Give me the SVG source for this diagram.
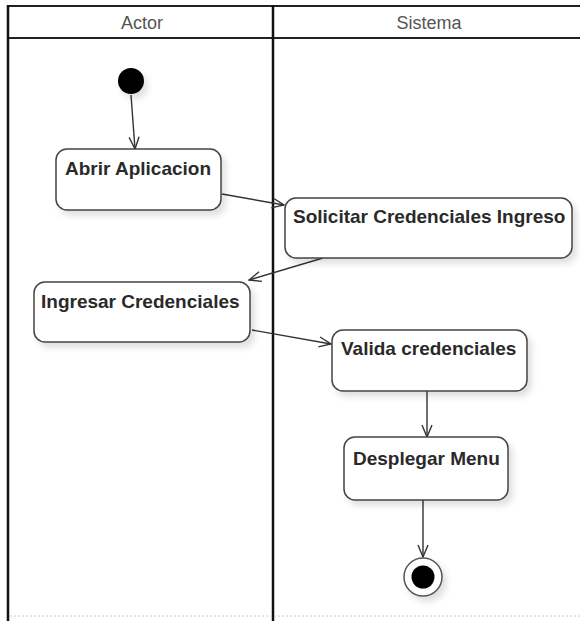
<svg xmlns="http://www.w3.org/2000/svg" width="580" height="621" viewBox="0 0 580 621">
  <defs>
    <style>
      .lane { stroke: #111; stroke-width: 2.5; fill: none; }
      .lane-thin { stroke: #222; stroke-width: 2; fill: none; }
      .lane-title { font-family: "Liberation Sans", Arial, sans-serif; font-size: 18px; fill: #555; text-anchor: middle; }
      .act rect { fill: #fff; stroke: #444; stroke-width: 1.5; filter: url(#shadow); }
      .act text { font-family: "Liberation Sans", Arial, sans-serif; font-size: 19px; font-weight: bold; fill: #2a2a2a; }
      .flow { stroke: #333; stroke-width: 1.4; fill: none; marker-end: url(#arrow); }
    </style>
    <filter id="shadow" x="-20%" y="-20%" width="150%" height="160%">
      <feDropShadow dx="4" dy="5" stdDeviation="3" flood-color="#000" flood-opacity="0.12"/>
    </filter>
    <marker id="arrow" viewBox="0 0 14 12" refX="13" refY="6" markerWidth="14" markerHeight="12" markerUnits="userSpaceOnUse" orient="auto">
      <path d="M1,1 L13,6 L1,11" fill="none" stroke="#333" stroke-width="1.4"/>
    </marker>
  </defs>

  <rect width="580" height="621" fill="#fff"/>

  <!-- swimlane frame -->
  <g id="lanes">
    <line class="lane-thin" x1="8" y1="6" x2="580" y2="6"/>
    <line class="lane-thin" x1="8" y1="38" x2="580" y2="38"/>
    <line class="lane" x1="8" y1="5" x2="8" y2="621"/>
    <line class="lane" x1="273" y1="5" x2="273" y2="621"/>
    <line x1="10" y1="616" x2="580" y2="616" stroke="#ccc" stroke-width="1" stroke-dasharray="2 2"/>
    <text class="lane-title" x="142" y="29">Actor</text>
    <text class="lane-title" x="429" y="29">Sistema</text>
  </g>

  <!-- control flow -->
  <g id="connectors">
    <line class="flow" x1="131" y1="95" x2="135" y2="149"/>
    <line class="flow" x1="222" y1="194" x2="284" y2="205"/>
    <line class="flow" x1="323" y1="258" x2="249" y2="280"/>
    <line class="flow" x1="252" y1="330" x2="331" y2="344"/>
    <line class="flow" x1="427" y1="391" x2="427" y2="437"/>
    <line class="flow" x1="423" y1="500" x2="423" y2="557"/>
  </g>

  <g id="start">
    <circle cx="131" cy="81" r="13" fill="#000" filter="url(#shadow)"/>
  </g>

  <g id="abrir-aplicacion" class="act">
    <rect x="56" y="149" width="165" height="61" rx="11"/>
    <text x="65" y="175">Abrir Aplicacion</text>
  </g>

  <g id="solicitar-credenciales" class="act">
    <rect x="285" y="198" width="287" height="60" rx="11"/>
    <text x="293" y="223">Solicitar Credenciales Ingreso</text>
  </g>

  <g id="ingresar-credenciales" class="act">
    <rect x="34" y="282" width="216" height="60" rx="11"/>
    <text x="41" y="308">Ingresar Credenciales</text>
  </g>

  <g id="valida-credenciales" class="act">
    <rect x="332" y="330" width="195" height="61" rx="11"/>
    <text x="341" y="355">Valida credenciales</text>
  </g>

  <g id="desplegar-menu" class="act">
    <rect x="344" y="437" width="164" height="63" rx="11"/>
    <text x="353" y="465">Desplegar Menu</text>
  </g>

  <g id="end">
    <circle cx="423" cy="577" r="19" fill="#fff" stroke="#555" stroke-width="1.5" filter="url(#shadow)"/>
    <circle cx="423" cy="577" r="11.5" fill="#000"/>
  </g>
</svg>
